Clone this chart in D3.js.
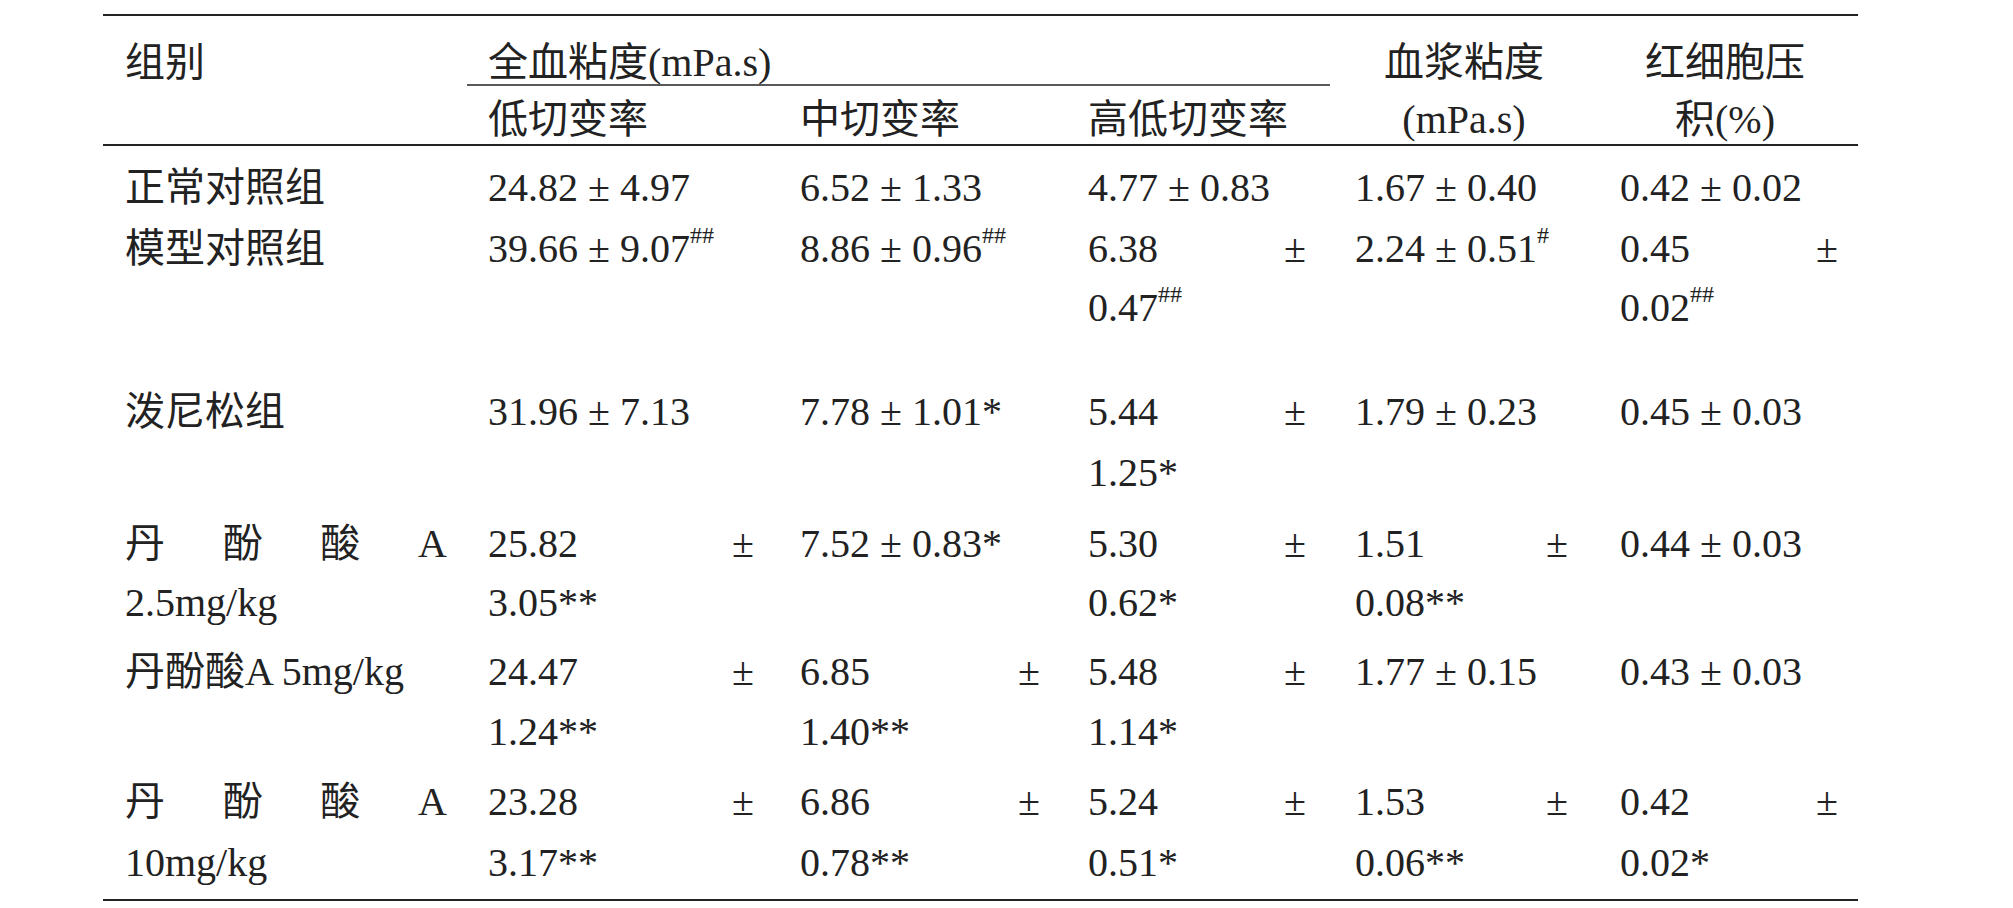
<!DOCTYPE html>
<html><head><meta charset="utf-8">
<script src="https://cdn.jsdelivr.net/npm/d3@7"></script>
<style>body{margin:0;background:#fff}text{font-family:"Liberation Serif","Noto Sans CJK SC",serif;fill:#222}</style>
</head><body><svg id="c" width="2013" height="908"></svg>
<script>
const groups = [["正常对照组"],["模型对照组"],["泼尼松组"],["丹 酚 酸 A","2.5mg/kg"],["丹酚酸A 5mg/kg"],["丹 酚 酸 A","10mg/kg"]];
const groupJustify = [false,false,false,true,false,true];
// each cell: [mean, sd, mark, wrapped]
const lowShear  = [["24.82","4.97","",0],["39.66","9.07","##",0],["31.96","7.13","",0],["25.82","3.05","**",1],["24.47","1.24","**",1],["23.28","3.17","**",1]];
const midShear  = [["6.52","1.33","",0],["8.86","0.96","##",0],["7.78","1.01","*",0],["7.52","0.83","*",0],["6.85","1.40","**",1],["6.86","0.78","**",1]];
const highShear = [["4.77","0.83","",0],["6.38","0.47","##",1],["5.44","1.25","*",1],["5.30","0.62","*",1],["5.48","1.14","*",1],["5.24","0.51","*",1]];
const plasma    = [["1.67","0.40","",0],["2.24","0.51","#",0],["1.79","0.23","",0],["1.51","0.08","**",1],["1.77","0.15","",0],["1.53","0.06","**",1]];
const hct       = [["0.42","0.02","",0],["0.45","0.02","##",1],["0.45","0.03","",0],["0.44","0.03","",0],["0.43","0.03","",0],["0.42","0.02","*",1]];
const columns = [lowShear, midShear, highShear, plasma, hct];
const rowLines = [[187],[248,307],[411,472],[543,602],[671,731],[801,862]];

const svg = d3.select("#c");
const fs = 40;
const x = d3.scaleOrdinal().domain([0,1,2,3,4,5]).range([125,488,800,1088,1355,1620]);
const xr = d3.scaleOrdinal().domain([1,2,3,4,5]).range([754,1040,1306,1568,1838]);
const line = (x1,x2,y,w)=>svg.append("line").attr("x1",x1).attr("x2",x2).attr("y1",y).attr("y2",y).attr("stroke","#222").attr("stroke-width",w);
line(103,1858,15,2); line(467,1330,85,1.5); line(103,1858,145,2); line(103,1858,900,2);

function txt(xp,y,s,anchor){return svg.append("text").attr("x",xp).attr("y",y).attr("font-size",fs).attr("dominant-baseline","central").attr("text-anchor",anchor||"start").text(s);}
txt(125,62,"组别"); txt(488,62,"全血粘度(mPa.s)");
txt(488,119,"低切变率"); txt(800,119,"中切变率"); txt(1088,119,"高低切变率");
txt(1464,62,"血浆粘度","middle"); txt(1464,119,"(mPa.s)","middle");
txt(1725,62,"红细胞压","middle"); txt(1725,119,"积(%)","middle");

groups.forEach((g,i)=>{
  const ys = rowLines[i];
  if(groupJustify[i]){
    const toks = g[0].split(" ");
    const pos = d3.scaleLinear().domain([0,toks.length-1]).range([125,418]);
    toks.forEach((t,k)=>txt(pos(k),ys[0],t));
    txt(125,ys[1],g[1]);
  } else txt(125,ys[0],g[0]);
});
function sup(t,m){ if(m) t.append("tspan").attr("font-size",fs*0.6).attr("dy",-13).text(m); }
columns.forEach((col,c)=>{
  col.forEach((d,i)=>{
    const ys = rowLines[i], isSup = d[2].includes("#");
    if(d[3]){
      txt(x(c+1),ys[0],d[0]); txt(xr(c+1),ys[0],"±","end");
      const t = txt(x(c+1),ys[1],d[1]);
      if(isSup) sup(t,d[2]); else if(d[2]) t.append("tspan").text(d[2]);
    } else {
      const t = txt(x(c+1),ys[0],d[0]+" ± "+d[1]);
      if(isSup) sup(t,d[2]); else if(d[2]) t.append("tspan").text(d[2]);
    }
  });
});
</script></body></html>
